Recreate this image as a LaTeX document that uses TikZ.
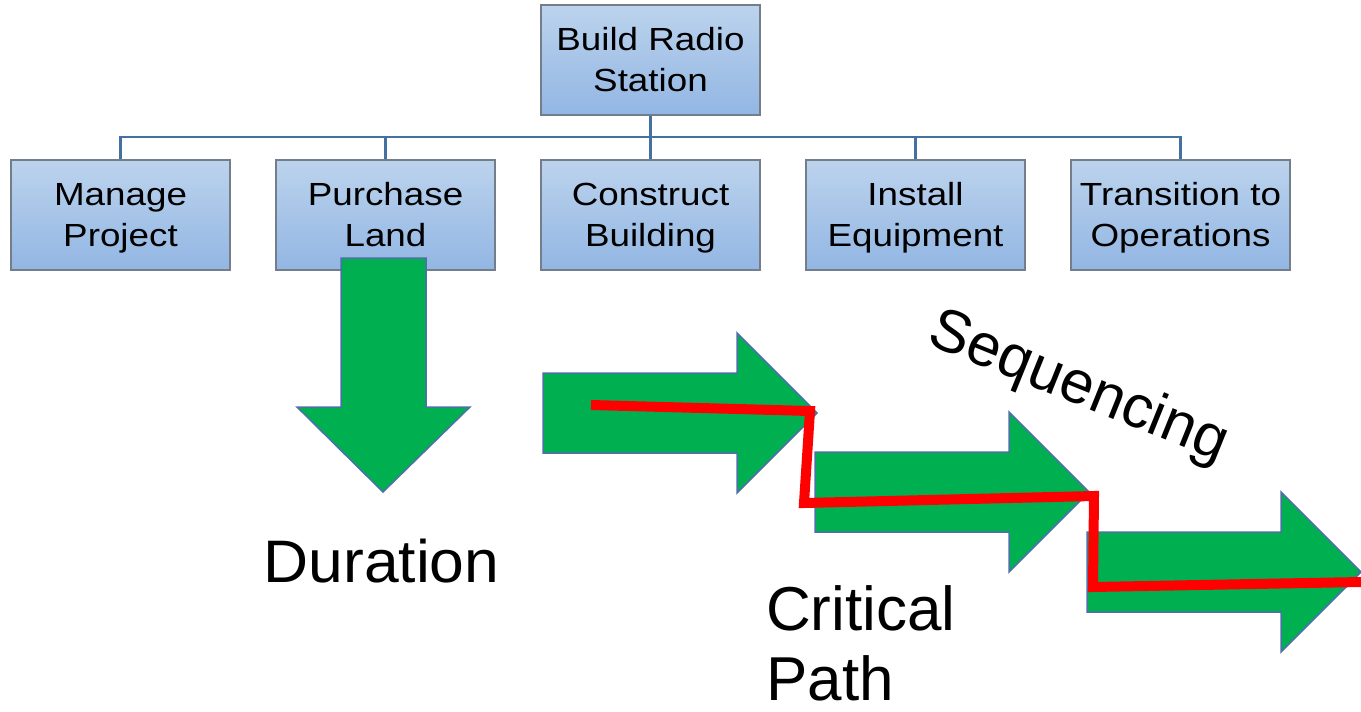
\documentclass[tikz,border=0pt]{standalone}
\usepackage{fontspec}
\setmainfont{Liberation Sans}
\newfontfamily\boxfont[FakeStretch=1.15]{Liberation Sans}
\newfontfamily\widefont[FakeStretch=1.04]{Liberation Sans}
\usepackage{tikz}
\usetikzlibrary{positioning}

\definecolor{boxtop}{RGB}{188,211,237}
\definecolor{boxbot}{RGB}{146,182,227}
\definecolor{boxline}{RGB}{115,126,138}
\definecolor{busline}{RGB}{68,114,160}
\definecolor{arrowgreen}{RGB}{0,176,80}
\definecolor{arrowline}{RGB}{78,112,168}

\newcommand\lowstrut{\rule[-6.5pt]{0pt}{6.5pt}}

\tikzset{
  wbsbox/.style={draw=boxline, line width=1.2pt, top color=boxtop, bottom color=boxbot,
    minimum width=219pt, minimum height=110pt, inner sep=0pt, align=center,
    font=\boxfont\fontsize{32}{41}\selectfont},
  bus/.style={draw=busline, line width=2.5pt},
  greenarrow/.style={fill=arrowgreen, draw=arrowline, line width=1.5pt, line join=miter},
  critpath/.style={draw=red, line width=10pt, line join=miter},
  bigtext/.style={inner sep=0pt, font=\fontsize{60}{70}\selectfont}
}

\begin{document}
\begin{tikzpicture}[x=1pt,y=-1pt]
\useasboundingbox (0,0) rectangle (1361,712);
% top of the breakdown
\node[wbsbox] (root) at (650.5,60) {\strut Build Radio\\Station\lowstrut};
\node[wbsbox] (land) at (385.5,215) {\strut Purchase\\Land\lowstrut};
\node[wbsbox, left=44.8pt of land] (manage) {\strut Manage\\Project\lowstrut};
\node[wbsbox, right=44.8pt of land] (build) {\strut Construct\\Building\lowstrut};
\node[wbsbox, right=44.8pt of build] (equip) {\strut Install\\Equipment\lowstrut};
\node[wbsbox, right=44.8pt of equip] (ops) {\strut Transition to\\Operations\lowstrut};
\coordinate (rail) at (0,137);
\foreach \n in {manage,land,build,equip,ops}
  \draw[bus] (root.south) -- (root.south |- rail) -| (\n.north);

% duration
\draw[greenarrow] (341,258) -- (426,258) -- (426,407) -- (470,407) -- (383,492) -- (297,407) -- (341,407) -- cycle;
\node[bigtext, anchor=base, font=\widefont\fontsize{60}{70}\selectfont] (dur) at (381.5,582) {Duration};

% sequencing
\foreach \dx/\dy in {0/0,272/79,544/159}
  \draw[greenarrow, shift={(\dx,\dy)}] (543,373) -- (737,373) -- (737,333) -- (817,413) -- (737,493) -- (737,453) -- (543,453) -- cycle;
\node[bigtext, rotate=-22] (seq) at (1078,388) {Sequencing};

% critical path
\coordinate (cp0) at (591,405);
\coordinate (cp1) at (810,411);
\coordinate (cp2) at (804,503);
\coordinate (cp3) at (1094,496);
\coordinate (cp4) at (1093,587);
\coordinate (cp5) at (1361,582);
\draw[critpath] (cp0) -- (cp1) -- (cp2) -- (cp3) -- (cp4) -- (cp5);
\node[bigtext, anchor=north west, align=left, font=\fontsize{62}{70}\selectfont] (crit) at (766,585) {Critical\\Path};
\end{tikzpicture}
\end{document}
